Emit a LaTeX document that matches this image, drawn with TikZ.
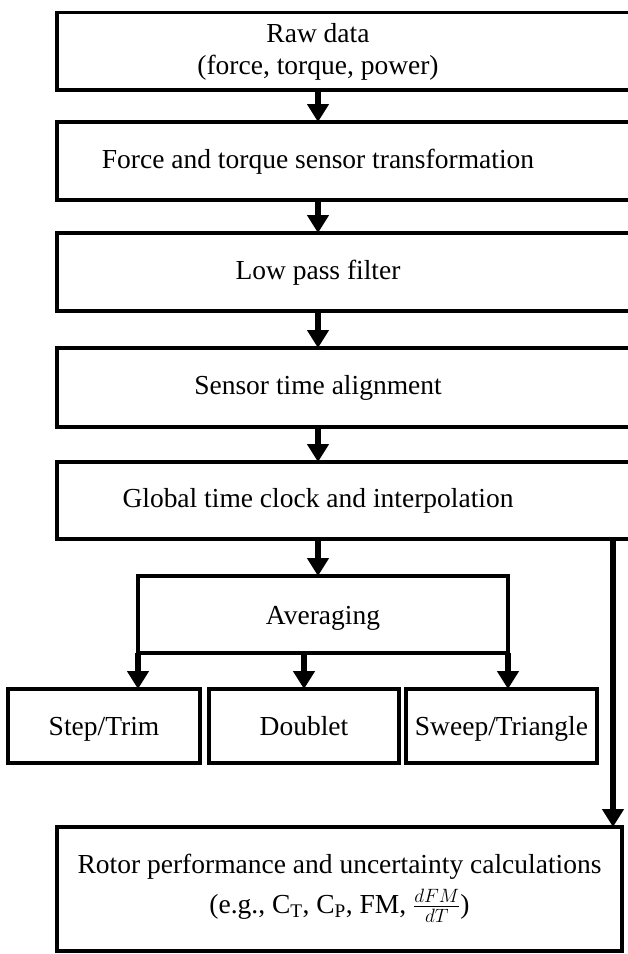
\documentclass[tikz,border=0pt]{standalone}
\usepackage{fix-cm}
\usepackage{fontspec}
\setmainfont{Liberation Serif}
\usetikzlibrary{arrows.meta}
\begin{document}
\begin{tikzpicture}[x=1pt,y=-1pt,
  box/.style={draw, line width=3.2pt, rectangle, inner sep=0pt, outer sep=0pt, anchor=north west},
  boxt/.style={box, font=\fontsize{27.5}{32}\selectfont, text height=23pt, text depth=4pt},
  lbl/.style={inner sep=0pt, font=\fontsize{27.5}{32}\selectfont, align=center},
  arr/.style={line width=6pt, -{Triangle[width=21pt,length=18pt]}}]
\clip (0,0) rectangle (628,954);
\fill[white] (0,0) rectangle (628,954);
% main column boxes
\node[box, minimum width=600, minimum height=77.5] (b1) at (57,12.5) {};
\node[box, minimum width=600, minimum height=78] (b2) at (57,122) {};
\node[box, minimum width=600, minimum height=78] (b3) at (57,233) {};
\node[box, minimum width=600, minimum height=79] (b4) at (57,348) {};
\node[box, minimum width=600, minimum height=77] (b5) at (57,462) {};
\node[lbl] (t1) at (318,52) {Raw data\\(force, torque, power)};
\node[lbl] (t2) at (318,162) {Force and torque sensor transformation};
\node[lbl] (t3) at (318,273) {Low pass filter};
\node[lbl] (t4) at (318,388) {Sensor time alignment};
\node[lbl] (t5) at (318,501) {Global time clock and interpolation};
% averaging and branches
\node[boxt, minimum width=370, minimum height=77] (avg) at (138,576) {Averaging};
\node[boxt, minimum width=192, minimum height=74] (s1) at (8,689) {Step/Trim};
\node[boxt, minimum width=190, minimum height=74] (s2) at (209,689) {Doublet};
\node[boxt, minimum width=191, minimum height=74] (s3) at (406,689) {Sweep/Triangle};
% rotor box
\node[box, minimum width=565, minimum height=124] (rot) at (57,827) {};
\node[lbl] (r1) at (339.5,867) {Rotor performance and uncertainty calculations};
\node[lbl] (r2) at (339.5,906) {(e.g., C\textsubscript{T}, C\textsubscript{P}, FM, $\frac{dFM}{dT}$)};
% arrows
\draw[arr] (t1 |- b1.south) -- (t1 |- b2.north);
\draw[arr] (t2 |- b2.south) -- (t2 |- b3.north);
\draw[arr] (t3 |- b3.south) -- (t3 |- b4.north);
\draw[arr] (t4 |- b4.south) -- (t4 |- b5.north);
\draw[arr] (t5 |- b5.south) -- (t5 |- avg.north);
\draw[arr] (avg.south west) -- (avg.south west |- s1.north);
\draw[arr] (s2.north |- avg.south) -- (s2.north);
\draw[arr] (avg.south east) -- (avg.south east |- s3.north);
\coordinate (rx) at (613,0);
\draw[arr] (rx |- b5.south) -- (rx |- rot.north);
\end{tikzpicture}
\end{document}
